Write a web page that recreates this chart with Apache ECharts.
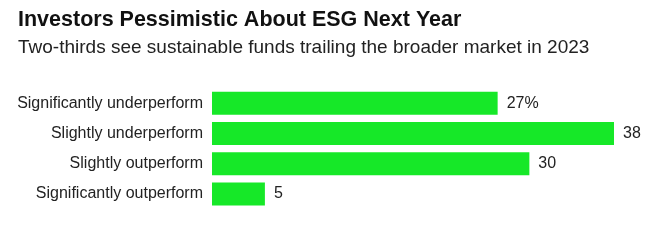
<!DOCTYPE html>
<html lang="en">
<head>
    <meta charset="UTF-8">
    <script src="https://cdn.jsdelivr.net/npm/echarts@6/dist/echarts.min.js"></script>
    <title>Investors Pessimistic About ESG Next Year</title>
    <style>
        html, body { margin: 0; padding: 0; background: #fff; }
        #chart { width: 650px; height: 241px; }
    </style>
</head>
<body>
    <div id="chart"></div>
    <script>
        var categories = ['Significantly underperform', 'Slightly underperform', 'Slightly outperform', 'Significantly outperform'];
        var values = [27, 38, 30, 5];

        var myChart = echarts.init(document.getElementById('chart'));
        var option = {
            backgroundColor: '#fff',
            animation: false,
            textStyle: { fontFamily: 'Liberation Sans' },
            title: {
                text: 'Investors Pessimistic About ESG Next Year',
                subtext: 'Two-thirds see sustainable funds trailing the broader market in 2023',
                left: 13,
                top: 4,
                itemGap: 7,
                textStyle: { fontSize: 21.5, fontWeight: 'bold', color: '#111' },
                subtextStyle: { fontSize: 19, color: '#222' }
            },
            grid: { left: 212, right: 36, top: 88, bottom: 32, containLabel: false },
            xAxis: {
                type: 'value',
                min: 0,
                max: 38,
                show: false
            },
            yAxis: {
                type: 'category',
                data: categories,
                inverse: true,
                axisLine: { show: false },
                axisTick: { show: false },
                axisLabel: { color: '#222', fontSize: 16, margin: 9 }
            },
            series: [{
                type: 'bar',
                data: values,
                barWidth: 23,
                itemStyle: { color: '#16e828' },
                label: {
                    show: true,
                    position: 'right',
                    distance: 9,
                    color: '#222',
                    fontSize: 16,
                    formatter: function (p) {
                        return p.dataIndex === 0 ? p.value + '%' : String(p.value);
                    }
                }
            }]
        };
        myChart.setOption(option);
    </script>
</body>
</html>
